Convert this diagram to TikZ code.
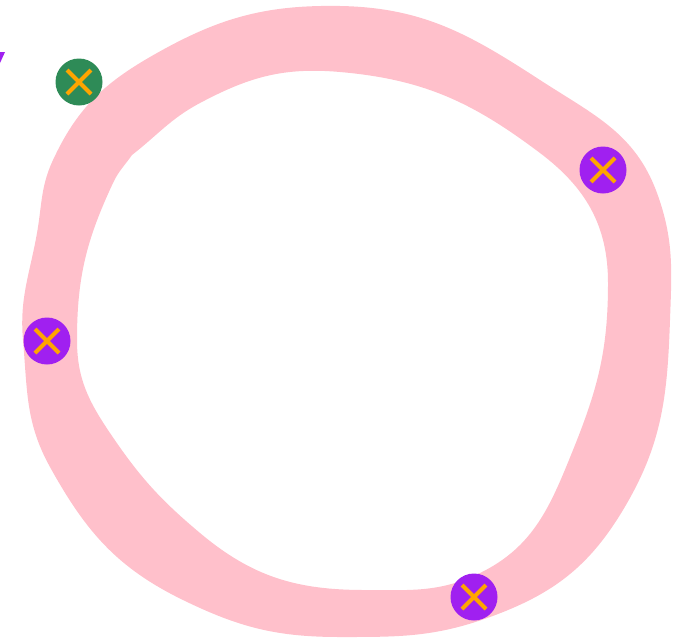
\documentclass[tikz,border=0pt]{standalone}
\usetikzlibrary{calc}
\definecolor{ringpink}{HTML}{FFC0CB}
\definecolor{mkgreen}{HTML}{2E8B57}
\definecolor{mkpurple}{HTML}{A020F0}
\definecolor{xorange}{HTML}{FFA500}
\tikzset{
  ring/.style={fill=ringpink, draw=none, even odd rule},
  marker/.style={circle, minimum size=47pt, inner sep=0pt, draw=none,
    path picture={
      \draw[xorange, line width=4pt]
        ([shift={(-12pt,-12pt)}]path picture bounding box.center) --
        ([shift={(12pt,12pt)}]path picture bounding box.center);
      \draw[xorange, line width=4pt]
        ([shift={(-12pt,12pt)}]path picture bounding box.center) --
        ([shift={(12pt,-12pt)}]path picture bounding box.center);
    }},
  greenmk/.style={marker, fill=mkgreen},
  purplemk/.style={marker, fill=mkpurple},
}
\begin{document}
\begin{tikzpicture}[x=1pt, y=-1pt]
\useasboundingbox (0,0) rectangle (684,640);
\fill[ring]
  (340,6) to[out=-1,in=147] (540,80) to[out=-33,in=110] (657,193)
  to[out=-70,in=88] (670,320) to[out=-92,in=59] (623,510)
  to[out=-121,in=20] (490,617) to[out=-160,in=0] (340,637)
  to[out=180,in=-26] (183,600) to[out=154,in=-61] (50,467)
  to[out=119,in=-85] (23,340) to[out=95,in=-100] (37,233)
  to[out=80,in=-115] (53,160)
  to[out=65,in=-150] (150,57) to[out=30,in=179] (340,6) -- cycle
  (340,72) to[out=-5,in=143] (540,153) to[out=-37,in=90] (608,283)
  to[out=-90,in=68] (573,450) to[out=-112,in=26] (480,573)
  to[out=-154,in=0] (365,590) to[out=180,in=-40] (200,533)
  to[out=140,in=-56] (110,433) to[out=124,in=-90] (77,340)
  to[out=90,in=-115] (113,183) to[out=65,in=-125] (132,155)
  to[out=38,in=-152] (200,103) to[out=28,in=175] (340,72) -- cycle;
\fill[mkpurple] (0,52) -- (5,52) -- (0,63) -- cycle;
\node[greenmk] (g1) at (79,82) {};
\node[purplemk] (p1) at (603,170) {};
\node[purplemk] (p2) at (47,341) {};
\node[purplemk] (p3) at (474,597) {};
\end{tikzpicture}
\end{document}
